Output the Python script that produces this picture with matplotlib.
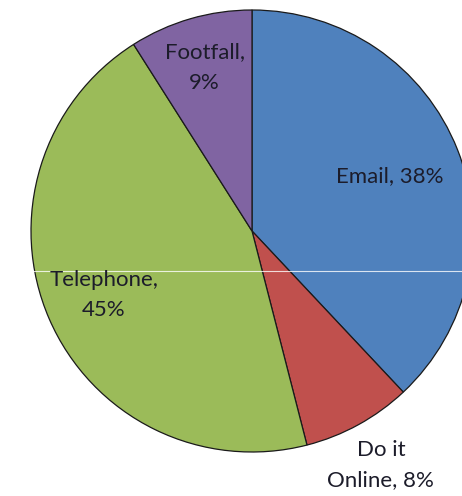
import numpy as np
import matplotlib
matplotlib.use("Agg")
import matplotlib.pyplot as plt

# Slices, clockwise from 12 o'clock
shares = [38, 8, 45, 9]
label_text = ["Email, 38%", "Do it\nOnline, 8%", "Telephone,\n45%", "Footfall,\n9%"]
colors = ["#4F81BD", "#C0504D", "#9BBB59", "#8064A2"]
label_dist = [0.67, 1.21, 0.73, 0.77]

W, H = 462, 496
fig = plt.figure(figsize=(W / 100, H / 100), dpi=100)
ax = fig.add_axes([0, 0, 1, 1])

cx, cy, r = 252, H - 231, 221
wedges, _ = ax.pie(shares, colors=colors, startangle=90, counterclock=False,
                   center=(cx, cy), radius=r, frame=True,
                   wedgeprops=dict(edgecolor="#1a1a1a", linewidth=0.9))
ax.set_xlim(0, W)
ax.set_ylim(0, H)
ax.set_aspect("equal")
ax.axis("off")

for w, txt, d in zip(wedges, label_text, label_dist):
    ang = np.deg2rad((w.theta1 + w.theta2) / 2)
    ax.text(cx + d * r * np.cos(ang), cy + d * r * np.sin(ang), txt,
            ha="center", va="center", fontsize=16, family="Lato",
            color="#1c1c2a", linespacing=1.65)

# faint scan line across the image
ax.plot([30, W], [H - 271, H - 271], color="white", linewidth=0.8, alpha=0.8)

fig.savefig("out.png", dpi=100)
